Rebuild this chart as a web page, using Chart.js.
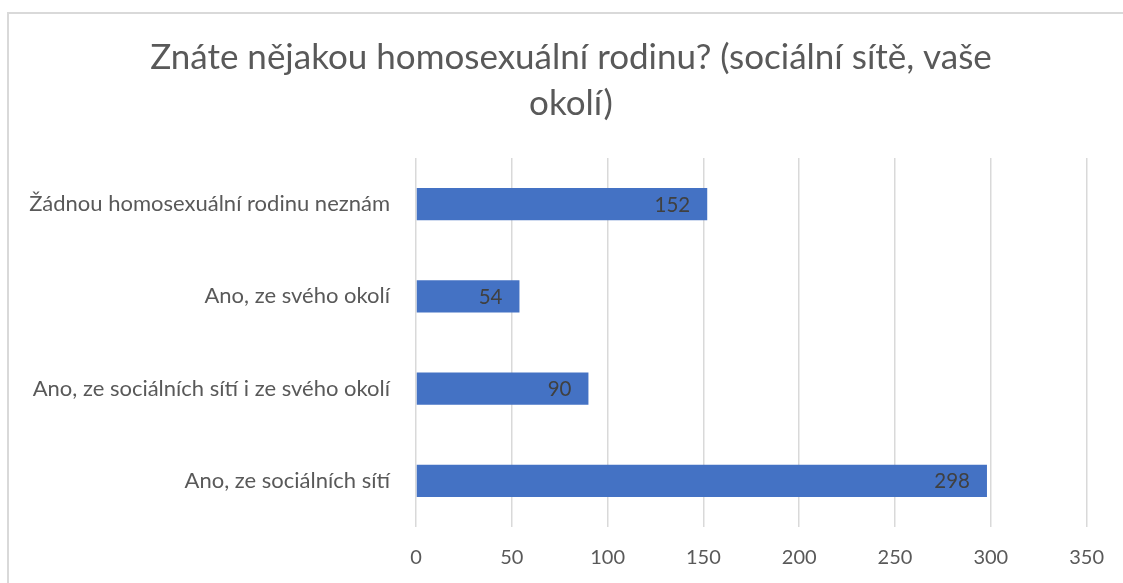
<!DOCTYPE html>
<html>
<head>
<meta charset="utf-8">
<script src="https://cdn.jsdelivr.net/npm/chart.js@4"></script>
<style>
  html, body { margin: 0; padding: 0; background: #fff; overflow: hidden; }
  #wrap { position: relative; width: 1123px; height: 583px; }
  #frame {
    position: absolute; left: 7px; top: 12px; width: 1140px; height: 600px;
    border: 2px solid #d9d9d9; box-sizing: border-box;
  }
  #main-chart { position: absolute; left: 0; top: 0; }
</style>
</head>
<body>
<div id="wrap">
  <div id="frame"></div>
  <canvas id="main-chart" width="1123" height="583"></canvas>
</div>
<script>
const titleLines = ['Znáte nějakou homosexuální rodinu? (sociální sítě, vaše', 'okolí)'];

const categories = [
  'Žádnou homosexuální rodinu neznám',
  'Ano, ze svého okolí',
  'Ano, ze sociálních sítí i ze svého okolí',
  'Ano, ze sociálních sítí'
];

const counts = [152, 54, 90, 298];

const xTicks = [0, 50, 100, 150, 200, 250, 300, 350];

const fontFamily = 'Lato, "Open Sans", sans-serif';

// value labels drawn inside the end of each bar
const barLabels = {
  id: 'barLabels',
  afterDatasetsDraw(chart) {
    const ctx = chart.ctx;
    const meta = chart.getDatasetMeta(0);
    ctx.save();
    ctx.font = '20.5px ' + fontFamily;
    ctx.fillStyle = '#404040';
    ctx.textAlign = 'right';
    ctx.textBaseline = 'middle';
    meta.data.forEach((bar, i) => {
      ctx.fillText(String(counts[i]), bar.x - 17, bar.y + 1);
    });
    ctx.restore();
  }
};

// title is centred on the frame rather than on the plot, so draw it here
const frameTitle = {
  id: 'frameTitle',
  afterDraw(chart) {
    const ctx = chart.ctx;
    ctx.save();
    ctx.font = '35px ' + fontFamily;
    ctx.fillStyle = '#595959';
    ctx.textAlign = 'center';
    ctx.textBaseline = 'alphabetic';
    titleLines.forEach((line, i) => {
      ctx.fillText(line, 571, 69 + i * 46);
    });
    ctx.restore();
  }
};

const mainChart = new Chart(document.getElementById('main-chart'), {
  type: 'bar',
  data: {
    labels: categories,
    datasets: [{
      data: counts,
      backgroundColor: '#4472C4',
      borderWidth: 0,
      barPercentage: 0.35,
      categoryPercentage: 1
    }]
  },
  options: {
    indexAxis: 'y',
    responsive: false,
    animation: false,
    layout: { padding: { left: 0, right: 34, top: 158, bottom: 0 } },
    plugins: {
      legend: { display: false },
      tooltip: { enabled: false },
      title: { display: false }
    },
    scales: {
      x: {
        min: 0,
        max: 350,
        afterBuildTicks(axis) {
          axis.ticks = xTicks.map(v => ({ value: v }));
        },
        afterFit(axis) { axis.height = 56; },
        grid: { color: '#d9d9d9', lineWidth: 1.5, drawTicks: false },
        border: { display: false },
        ticks: {
          color: '#595959',
          padding: 19,
          font: { family: fontFamily, size: 20 }
        }
      },
      y: {
        afterFit(axis) { axis.width = 416; },
        grid: { display: false, drawTicks: false },
        border: { display: false },
        ticks: {
          color: '#595959',
          padding: 26,
          font: { family: fontFamily, size: 22 }
        }
      }
    }
  },
  plugins: [barLabels, frameTitle]
});
</script>
</body>
</html>
